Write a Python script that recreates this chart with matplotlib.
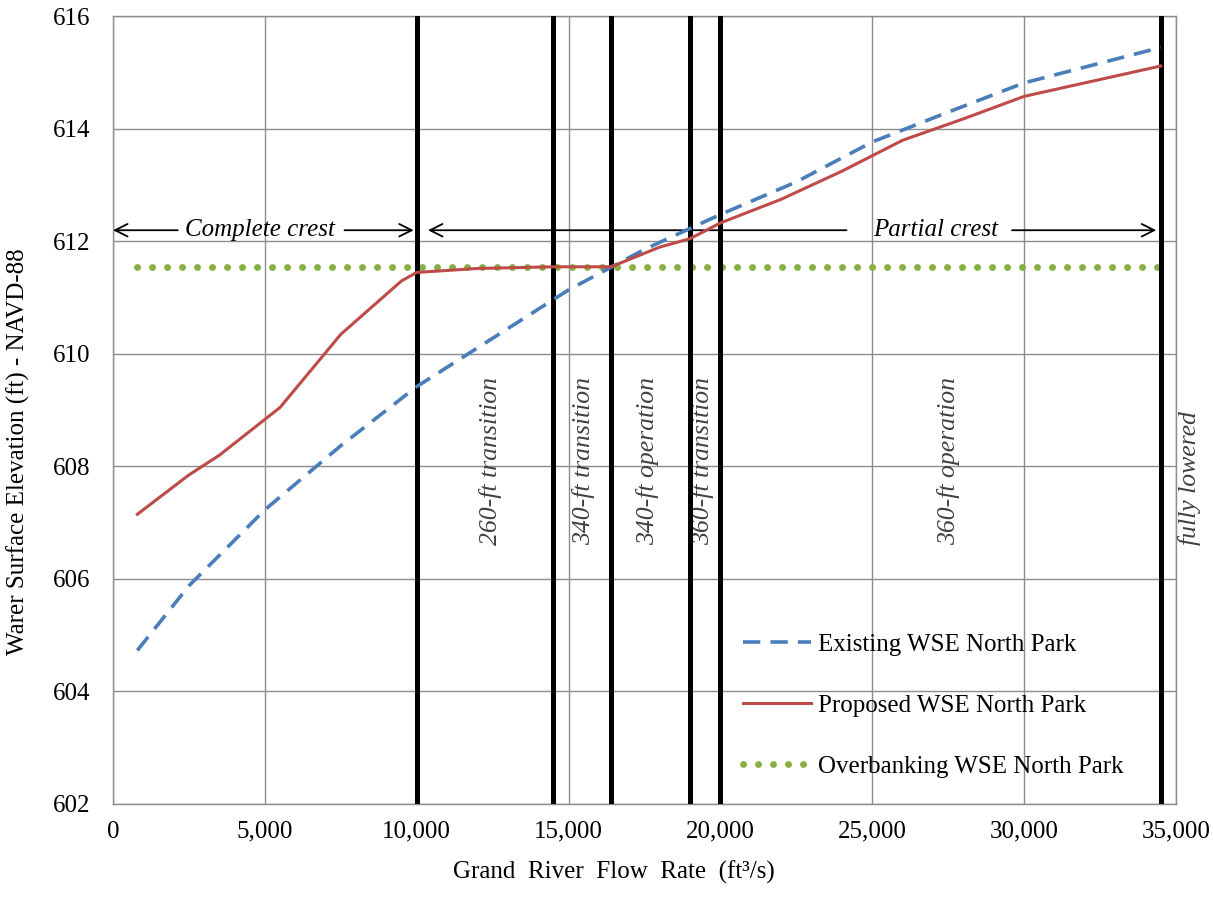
import matplotlib
matplotlib.use("Agg")
import matplotlib.pyplot as plt
from matplotlib.ticker import FuncFormatter

plt.rcParams["font.family"] = ["Liberation Serif", "DejaVu Serif"]

# Flow rate (ft3/s) and water surface elevation (ft)
existing_flow = [800, 2500, 5000, 7500, 10000, 12500, 15000, 17500, 20000,
                 22500, 25000, 27500, 30000, 34500]
existing_wse = [604.73, 605.88, 607.23, 608.37, 609.42, 610.28, 611.14, 611.86,
                612.48, 613.06, 613.77, 614.3, 614.82, 615.45]

proposed_flow = [800, 2500, 3500, 5500, 7500, 9500, 10000, 12000, 14500, 16400,
                 18000, 19000, 20000, 22000, 24000, 26000, 28000, 30000, 34500]
proposed_wse = [607.15, 607.85, 608.2, 609.05, 610.35, 611.3, 611.45, 611.52,
                611.55, 611.55, 611.9, 612.05, 612.33, 612.75, 613.25, 613.8,
                614.18, 614.58, 615.12]

overbank_flow = [800, 34500]
overbank_wse = [611.55, 611.55]

# Gate operation boundaries
boundaries = [10000, 14500, 16400, 19000, 20000, 34500]

# Operation stage labels
stage_labels = ["260-ft transition", "340-ft transition", "340-ft operation",
                "360-ft transition", "360-ft operation", "fully lowered"]
stage_x = [12430, 15500, 17600, 19400, 27500, 35450]

x_ticks = [0, 5000, 10000, 15000, 20000, 25000, 30000, 35000]
y_ticks = [602, 604, 606, 608, 610, 612, 614, 616]

FS = 18

fig = plt.figure(figsize=(12.13, 9.11), dpi=100)
ax = fig.add_axes([0.0932, 0.1175, 0.8763, 0.8644])

ax.set_xlim(0, 35000)
ax.set_ylim(602, 616)
ax.set_xticks(x_ticks)
ax.set_yticks(y_ticks)
ax.xaxis.set_major_formatter(FuncFormatter(lambda v, p: f"{int(v):,}"))
ax.tick_params(axis="both", length=0, labelsize=FS)
ax.tick_params(axis="x", pad=12)
ax.tick_params(axis="y", pad=16)

grid_c = "#8c8c8c"
ax.grid(True, color=grid_c, linewidth=1.0)
ax.set_axisbelow(True)
for s in ax.spines.values():
    s.set_color(grid_c)
    s.set_linewidth(1.0)

for b in boundaries:
    ax.axvline(b, color="black", linewidth=3.6, zorder=4)

ax.plot(existing_flow, existing_wse, color="#4a7ebb", linewidth=2.6,
        dashes=(4.8, 2.8), label="Existing WSE North Park", zorder=5)
ax.plot(proposed_flow, proposed_wse, color="#be4b48", linewidth=2.2,
        label="Proposed WSE North Park", zorder=5)
ax.plot(overbank_flow, overbank_wse, color="#86b043", linewidth=5.0,
        linestyle=(0, (0.01, 2.15)), dash_capstyle="round",
        label="Overbanking WSE North Park", zorder=3)

for lbl, xv in zip(stage_labels, stage_x):
    ax.text(xv, 606.6, lbl, rotation=90, ha="center", va="bottom",
            fontsize=18.5, style="italic", color="#404040", clip_on=False)

# Crest operation ranges
arrow_kw = dict(arrowstyle="->,head_length=0.9,head_width=0.45",
                color="black", linewidth=1.3, shrinkA=0, shrinkB=0)
ax.text(4855, 612.2, "Complete crest", ha="center", va="center",
        fontsize=FS, style="italic")
ax.annotate("", xy=(0, 612.2), xytext=(2130, 612.2), arrowprops=arrow_kw)
ax.annotate("", xy=(9900, 612.2), xytext=(7620, 612.2), arrowprops=arrow_kw)
ax.text(27100, 612.2, "Partial crest", ha="center", va="center",
        fontsize=FS, style="italic")
ax.annotate("", xy=(10370, 612.2), xytext=(24150, 612.2), arrowprops=arrow_kw)
ax.annotate("", xy=(34350, 612.2), xytext=(29600, 612.2), arrowprops=arrow_kw)

ax.set_xlabel("Grand  River  Flow  Rate  (ft\u00b3/s)", fontsize=FS)
ax.xaxis.set_label_coords(0.471, -0.072)
ax.set_ylabel("Warer Surface Elevation (ft) - NAVD-88", fontsize=FS)
ax.yaxis.set_label_coords(-0.078, 0.447)

leg = ax.legend(loc="upper left", bbox_to_anchor=(0.593, 0.217),
                frameon=False, fontsize=FS, handlelength=2.7,
                handletextpad=0.3, labelspacing=1.55, borderpad=0,
                borderaxespad=0)

fig.savefig("out.png", dpi=100)
